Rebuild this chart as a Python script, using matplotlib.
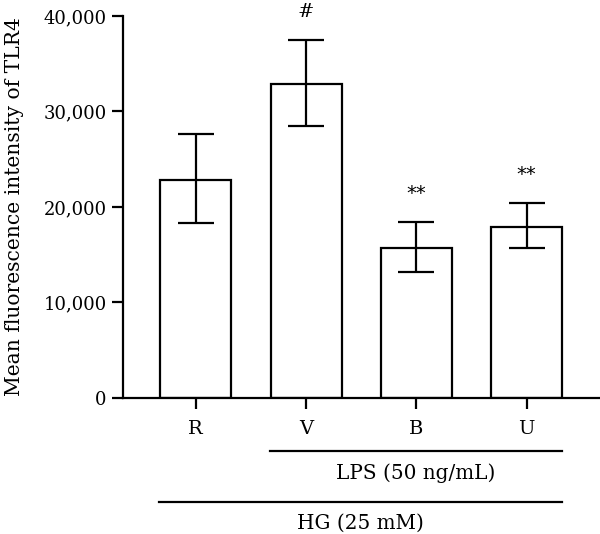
import numpy as np
import matplotlib
matplotlib.use("Agg")
import matplotlib.pyplot as plt
import matplotlib.transforms as mtransforms

# group labels and values
groups = ["R", "V", "B", "U"]
means = [22850, 32860, 15680, 17950]
err_low = [18340, 28450, 13230, 15750]
err_high = [27610, 37480, 18450, 20440]
marks = ["", "#", "**", "**"]

plt.rcParams["font.family"] = ["DejaVu Serif"]
plt.rcParams["font.size"] = 13

fig = plt.figure(figsize=(6.0, 5.34), dpi=100)
ax = fig.add_axes([0.2045, 0.2547, 0.7955, 0.7154])

x = np.arange(len(groups))
means = np.array(means)
yerr = np.vstack([means - np.array(err_low), np.array(err_high) - means])

ax.bar(x, means, width=0.644, color="white", edgecolor="black", linewidth=1.6)
ax.errorbar(x, means, yerr=yerr, fmt="none", ecolor="black", elinewidth=1.6,
            capsize=13, capthick=1.6)

# significance marks above the error bars
for xi, top, m in zip(x, err_high, marks):
    if m:
        ax.text(xi, top + 2000, m, ha="center", va="bottom", fontsize=14,
                fontfamily="DejaVu Sans" if m == "**" else "DejaVu Serif")

ax.set_xlim(-0.662, 3.665)
ax.set_ylim(0, 40000)
ax.set_yticks([0, 10000, 20000, 30000, 40000])
ax.set_yticklabels(["0", "10,000", "20,000", "30,000", "40,000"])
ax.set_xticks(x)
ax.set_xticklabels(groups)
ax.tick_params(axis="both", length=8, width=1.6, labelsize=13)
ax.tick_params(axis="x", pad=8, labelsize=14)
ax.spines["top"].set_visible(False)
ax.spines["right"].set_visible(False)
for s in ["left", "bottom"]:
    ax.spines[s].set_linewidth(1.6)

ax.set_ylabel("Mean fluorescence intensity of TLR4", fontsize=14.6)
ax.yaxis.set_label_coords(-0.207, 0.5)

# treatment brackets below the axis
trans = mtransforms.blended_transform_factory(ax.transData, ax.transAxes)
ax.plot([0.674, 3.319], [-0.1387, -0.1387], color="black", lw=1.6,
        transform=trans, clip_on=False)
ax.text((0.674 + 3.319) / 2, -0.196, "LPS (50 ng/mL)", ha="center", va="center",
        transform=trans, fontsize=14.4)
ax.plot([-0.333, 3.319], [-0.2715, -0.2715], color="black", lw=1.6,
        transform=trans, clip_on=False)
ax.text((-0.333 + 3.319) / 2, -0.327, "HG (25 mM)", ha="center", va="center",
        transform=trans, fontsize=14.4)

fig.savefig("out.png", dpi=100)
